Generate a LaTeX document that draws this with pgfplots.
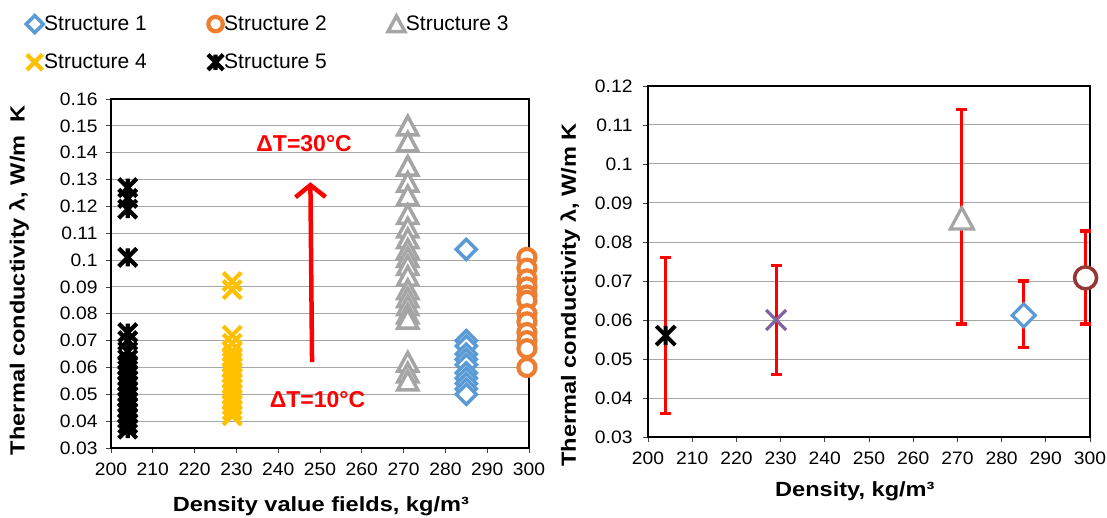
\documentclass[border=0pt]{standalone}
\usepackage{fontspec}
\setmainfont{Liberation Sans}
\newfontfamily\labelfont{Liberation Sans}[FakeStretch=1.15]
\newfontfamily\tickfont{Liberation Sans}[FakeStretch=1.07]
\usepackage{pgfplots}
\pgfplotsset{compat=1.18}
\usetikzlibrary{arrows.meta}
\definecolor{sblue}{HTML}{5B9BD5}
\definecolor{sorange}{HTML}{ED7D31}
\definecolor{sgray}{HTML}{A5A5A5}
\definecolor{syellow}{HTML}{FFC000}
\definecolor{spurple}{HTML}{8064A2}
\definecolor{sdred}{HTML}{953735}
\definecolor{gridgray}{HTML}{A6A6A6}

\pgfdeclareplotmark{sqdiamond}{%
  \pgfpathmoveto{\pgfqpoint{0pt}{\pgfplotmarksize}}%
  \pgfpathlineto{\pgfqpoint{\pgfplotmarksize}{0pt}}%
  \pgfpathlineto{\pgfqpoint{0pt}{-\pgfplotmarksize}}%
  \pgfpathlineto{\pgfqpoint{-\pgfplotmarksize}{0pt}}%
  \pgfpathclose
  \pgfusepathqfillstroke}
\pgfdeclareplotmark{tri}{%
  \pgfpathmoveto{\pgfqpoint{0pt}{0.95\pgfplotmarksize}}%
  \pgfpathlineto{\pgfqpoint{\pgfplotmarksize}{-0.9\pgfplotmarksize}}%
  \pgfpathlineto{\pgfqpoint{-\pgfplotmarksize}{-0.9\pgfplotmarksize}}%
  \pgfpathclose
  \pgfusepathqfillstroke}
\pgfdeclareplotmark{xx}{%
  \pgfpathmoveto{\pgfqpoint{-\pgfplotmarksize}{-\pgfplotmarksize}}%
  \pgfpathlineto{\pgfqpoint{\pgfplotmarksize}{\pgfplotmarksize}}%
  \pgfpathmoveto{\pgfqpoint{-\pgfplotmarksize}{\pgfplotmarksize}}%
  \pgfpathlineto{\pgfqpoint{\pgfplotmarksize}{-\pgfplotmarksize}}%
  \pgfusepathqstroke}
\pgfdeclareplotmark{xstar}{%
  \pgfpathmoveto{\pgfqpoint{-\pgfplotmarksize}{-\pgfplotmarksize}}%
  \pgfpathlineto{\pgfqpoint{\pgfplotmarksize}{\pgfplotmarksize}}%
  \pgfpathmoveto{\pgfqpoint{-\pgfplotmarksize}{\pgfplotmarksize}}%
  \pgfpathlineto{\pgfqpoint{\pgfplotmarksize}{-\pgfplotmarksize}}%
  \pgfpathmoveto{\pgfqpoint{0pt}{-\pgfplotmarksize}}%
  \pgfpathlineto{\pgfqpoint{0pt}{\pgfplotmarksize}}%
  \pgfusepathqstroke}

\pgfplotsset{
  common/.style={
    scale only axis, anchor=south west, clip=false,
    xmin=200, xmax=300,
    xtick={200,210,220,230,240,250,260,270,280,290,300},
    tick align=outside, tick pos=left,
    major tick length=5pt,
    tick style={black!75, line width=0.8pt},
    axis line style={black, line width=2.6pt},
    ymajorgrids, major grid style={gridgray, line width=1pt},
    ticklabel style={font=\tickfont\fontsize{18}{20}\selectfont},
    yticklabel style={xshift=-5pt, /pgf/number format/fixed, /pgf/number format/precision=2, /pgf/number format/assume math mode=true},
    xticklabel style={yshift=-6pt, /pgf/number format/assume math mode=true},
    label style={font=\labelfont\bfseries\fontsize{20.5}{22}\selectfont},
  }
}

\begin{document}
\begin{tikzpicture}
\useasboundingbox (0,0) rectangle (1107pt,517pt);

% ---------------- Left chart ----------------
\begin{axis}[common,
  at={(111pt,69pt)}, width=418pt, height=349pt,
  ymin=0.03, ymax=0.16,
  ytick={0.03,0.04,0.05,0.06,0.07,0.08,0.09,0.1,0.11,0.12,0.13,0.14,0.15,0.16},
  xlabel={Density value fields, kg/m³},
  ylabel={Thermal conductivity λ, W/m\ \ K},
  xlabel style={at={(axis description cs:0.502,-0.167)}, anchor=center},
  ylabel style={at={(axis description cs:-0.22,0.481)}, anchor=center},
  legend columns=3,
  legend cell align=left,
  legend image code/.code={\draw[#1, every mark/.append style={scale=0.85}] plot coordinates {(0cm,0cm)};},
  legend style={at={(-0.2105,1.247)}, anchor=north west, draw=none, fill=none,
    font=\fontsize{21}{24}\selectfont, nodes={inner sep=1pt},
    /tikz/every even column/.append style={column sep=60pt}, row sep=20pt},
]
% Structure 1
\addplot[only marks, color=sblue, mark=sqdiamond, mark size=10pt,
  mark options={solid, fill=white, line width=3.5pt}] coordinates {
  (285,0.104) (285,0.070) (285,0.068) (285,0.065) (285,0.063) (285,0.061)
  (285,0.058) (285,0.056) (285,0.054) (285,0.052) (285,0.050)};
\addlegendentry{Structure 1}
% Structure 2
\addplot[only marks, color=sorange, mark=*, mark size=8.5pt,
  mark options={solid, fill=white, line width=4.2pt}] coordinates {
  (299.5,0.101) (299.5,0.097) (299.5,0.093) (299.5,0.090) (299.5,0.087)
  (299.5,0.085) (299.5,0.080) (299.5,0.077) (299.5,0.073) (299.5,0.070)
  (299.5,0.067) (299.5,0.060)};
\addlegendentry{Structure 2}
% Structure 3
\addplot[only marks, color=sgray, mark=tri, mark size=10pt,
  mark options={solid, fill=white, line width=3.5pt}] coordinates {
  (271,0.150) (271,0.144) (271,0.135) (271,0.129) (271,0.124) (271,0.117)
  (271,0.112) (271,0.108) (271,0.104) (271,0.101) (271,0.098) (271,0.094)
  (271,0.089) (271,0.086) (271,0.083) (271,0.080) (271,0.078)
  (271,0.062) (271,0.058) (271,0.055)};
\addlegendentry{Structure 3}
% Structure 4
\addplot[only marks, color=syellow, mark=xx, mark size=9pt,
  mark options={solid, line width=4.2pt}] coordinates {
  (229,0.092) (229,0.089) (229,0.072) (229,0.069) (229,0.066) (229,0.064)
  (229,0.062) (229,0.060) (229,0.058) (229,0.056) (229,0.054) (229,0.052)
  (229,0.050) (229,0.048) (229,0.046) (229,0.044) (229,0.042)};
\addlegendentry{Structure 4}
% Structure 5
\addplot[only marks, color=black, mark=xstar, mark size=9pt,
  mark options={solid, line width=4.2pt}] coordinates {
  (204,0.127) (204,0.123) (204,0.119) (204,0.101) (204,0.073) (204,0.070)
  (204,0.066) (204,0.063) (204,0.061) (204,0.059) (204,0.057) (204,0.055)
  (204,0.053) (204,0.051) (204,0.049) (204,0.047) (204,0.045) (204,0.043)
  (204,0.041) (204,0.039) (204,0.037)};
\addlegendentry{Structure 5}

\draw[red, line width=4.5pt, -{Straight Barb[length=12pt, width=30pt, line width=4.5pt]}]
  (axis cs:248.1,0.062) -- (axis cs:247.7,0.129);
\node[text=red, font=\bfseries\fontsize{23}{24}\selectfont] at (axis cs:246.2,0.1434) {ΔT=30°C};
\node[text=red, font=\bfseries\fontsize{23}{24}\selectfont] at (axis cs:249.4,0.0482) {ΔT=10°C};
\end{axis}

% ---------------- Right chart ----------------
\begin{axis}[common,
  at={(648pt,80pt)}, width=442pt, height=351pt,
  ymin=0.03, ymax=0.12,
  ytick={0.03,0.04,0.05,0.06,0.07,0.08,0.09,0.1,0.11,0.12},
  yticklabel style={xshift=-2pt},
  xlabel={Density, kg/m³},
  ylabel={Thermal conductivity λ, W/m K},
  xlabel style={at={(axis description cs:0.468,-0.154)}, anchor=center},
  ylabel style={at={(axis description cs:-0.176,0.405)}, anchor=center},
  error bars/y dir=both, error bars/y explicit,
  error bars/error mark=-,
  error bars/error bar style={red, line width=3.2pt},
  error bars/error mark options={rotate=90, red, mark size=5.5pt, line width=3.2pt},
]
\addplot[only marks, color=black, mark=xstar, mark size=9.5pt,
  mark options={solid, line width=4pt}] coordinates {
  (204,0.056) += (0,0.020) -= (0,0.020)};
\addplot[only marks, color=spurple, mark=xx, mark size=10pt,
  mark options={solid, line width=3.2pt}] coordinates {
  (229,0.060) += (0,0.014) -= (0,0.014)};
\addplot[only marks, color=sgray, mark=tri, mark size=11.5pt,
  mark options={solid, fill=white, line width=3.2pt}] coordinates {
  (271,0.086) += (0,0.028) -= (0,0.027)};
\addplot[only marks, color=sblue, mark=sqdiamond, mark size=11.5pt,
  mark options={solid, fill=white, line width=3.2pt}] coordinates {
  (285,0.0612) += (0,0.0088) -= (0,0.0082)};
\addplot[only marks, color=sdred, mark=*, mark size=11pt,
  mark options={solid, fill=white, line width=3.5pt}] coordinates {
  (299,0.0708) += (0,0.012) -= (0,0.0118)};
\end{axis}
\end{tikzpicture}
\end{document}
